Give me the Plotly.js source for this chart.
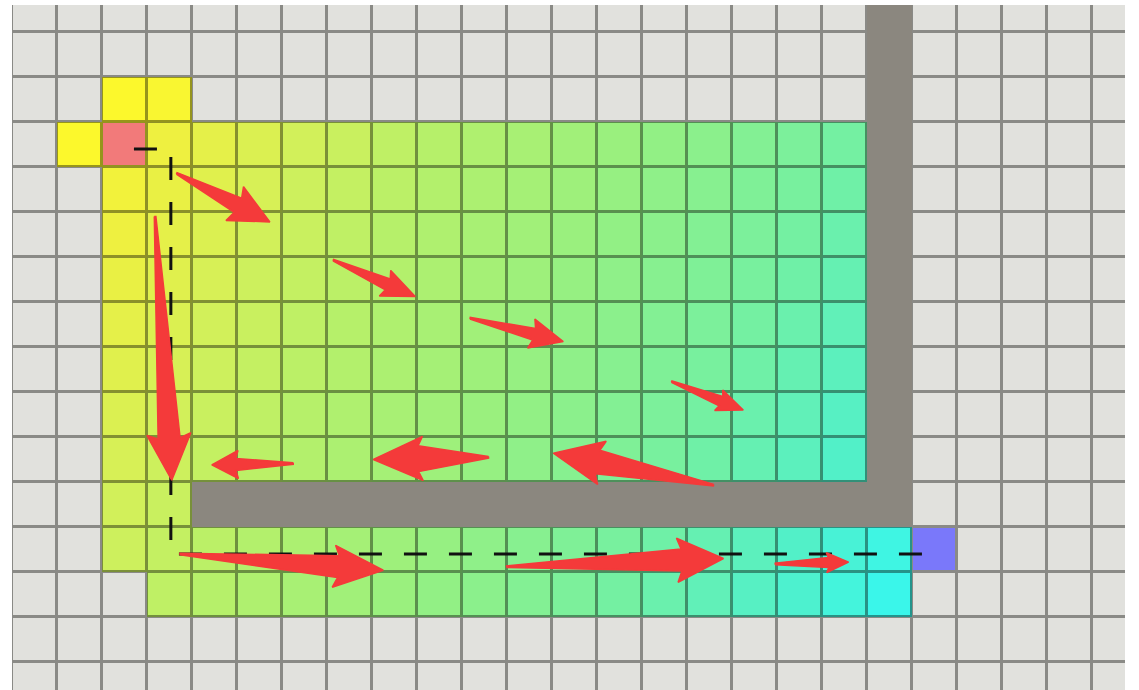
<!DOCTYPE html>
<html><head><meta charset="utf-8">
<script src="https://cdn.plot.ly/plotly-3.0.1.min.js"></script>
<style>html,body{margin:0;padding:0;background:#fff;}#chart{width:1139px;height:690px;}</style>
</head><body><div id="chart"></div>
<script>
// ---- grid cells (column / row indices) ----
const gridCols = [0,1,2,3,4,5,6,7,8,9,10,11,12,13,14,15,16,17,18,19,20,21,22,23,24];
const gridRows = [-1,0,1,2,3,4,5,6,7,8,9,10,11,12,13,14];

// ---- heat values of explored cells: rows 1..12, columns 0..20 (null = unexplored) ----
const n = null;
const heatRows = [1,2,3,4,5,6,7,8,9,10,11,12];
const heatValues = [
  [n,n,4,5,n,n,n,n,n,n,n,n,n,n,n,n,n,n,n,n,n],
  [n,4,6,8,10,12,14,16,18,20,22,24,26,28,30,32,34,36,38,n,n],
  [n,n,7,9,11,13,15,17,19,21,23,25,27,29,31,33,35,37,39,n,n],
  [n,n,8,10,12,14,16,18,20,22,24,26,28,30,32,34,36,38,40,n,n],
  [n,n,9,11,13,15,17,19,21,23,25,27,29,31,33,35,37,39,41,n,n],
  [n,n,10,12,14,16,18,20,22,24,26,28,30,32,34,36,38,40,42,n,n],
  [n,n,11,13,15,17,19,21,23,25,27,29,31,33,35,37,39,41,43,n,n],
  [n,n,12,14,16,18,20,22,24,26,28,30,32,34,36,38,40,42,44,n,n],
  [n,n,13,15,17,19,21,23,25,27,29,31,33,35,37,39,41,43,45,n,n],
  [n,n,14,16,n,n,n,n,n,n,n,n,n,n,n,n,n,n,n,n,n],
  [n,n,15,17,19,21,23,25,27,29,31,33,35,37,39,41,43,45,47,49,n],
  [n,n,n,18,20,22,24,26,28,30,32,34,36,38,40,42,44,46,48,50,n]
];

// ---- start / target cells ----
const startCell = [2, 2];
const targetCell = [20, 11];

// ---- wall cells ----
const wallCellCols = [19,19,19,19,19,19,19,19,19,19,19,19, 4,5,6,7,8,9,10,11,12,13,14,15,16,17,18];
const wallCellRows = [-1,0,1,2,3,4,5,6,7,8,9,10, 10,10,10,10,10,10,10,10,10,10,10,10,10,10,10];

// ---- found path (dashed) ----
const pathX = [2.71, 3.53, 3.53, 20.36];
const pathY = [2.60, 2.60, 11.60, 11.60];

// ---- flow arrows: tail and tip points (grid units) ----
const arrowTailX = [3.66, 7.14, 10.18, 14.66, 3.18, 6.25, 10.59, 15.59, 3.73, 10.99, 16.96];
const arrowTailY = [3.14, 5.07, 6.36, 7.77, 4.10, 9.59, 9.45, 10.07, 11.60, 11.88, 11.82];
const arrowTipX  = [5.73, 8.96, 12.25, 16.25, 3.55, 4.44, 8.03, 12.03, 8.25, 15.81, 18.59];
const arrowTipY  = [4.22, 5.88, 6.88, 8.40, 9.96, 9.62, 9.50, 9.36, 11.96, 11.70, 11.78];

// ---- styles ----
const arrowHeadHalf = [19,14,15,11,22,14,22,22,21,22,10];   // px
const arrowHeadLen  = [36,30,30,24,42,24,45,45,45,42,20];   // px
const arrowShaftHalf= [8,6,6,5,11,6,13,12,11,11,5];          // px
const CELL = 45;
const emptyColor = '#e1e1dd';
const lineColor = '#8a8a86';
const wallColor = '#8b877f';
const startColor = '#f27a7a';
const targetColor = '#7a78fa';
const arrowColor = '#f43a3a';
const heatScale = [
  [0, '#fcf82c'], [0.087, '#eef040'], [0.217, '#d2f05a'], [0.348, '#b6f06a'],
  [0.522, '#9af07e'], [0.739, '#74f0a2'], [0.891, '#52f0c8'], [1, '#3af6ea']
];
function darken(hex, f) {
  const r = parseInt(hex.slice(1,3),16), g = parseInt(hex.slice(3,5),16), b = parseInt(hex.slice(5,7),16);
  return 'rgb(' + Math.round(r*f) + ',' + Math.round(g*f) + ',' + Math.round(b*f) + ')';
}
const darkScale = heatScale.map(s => [s[0], darken(s[1], 0.6)]);

// ---- build full-grid matrices ----
const xc = gridCols.map(c => c + 0.5);
const yc = gridRows.map(r => r + 0.5);
function gridZ(fn) { return gridRows.map(r => gridCols.map(c => fn(c, r))); }
const heatZ = gridZ((c, r) => {
  const ri = heatRows.indexOf(r);
  if (ri < 0 || c >= heatValues[ri].length) return null;
  return heatValues[ri][c];
});
const emptyZ = gridZ(() => 1);
const specialZ = gridZ((c, r) => (c === startCell[0] && r === startCell[1]) ? 0 : ((c === targetCell[0] && r === targetCell[1]) ? 1 : null));
const wallZ = gridZ((c, r) => {
  for (let k = 0; k < wallCellCols.length; k++) if (wallCellCols[k] === c && wallCellRows[k] === r) return 1;
  return null;
});

const common = {x: xc, y: yc, showscale: false, hoverinfo: 'skip', type: 'heatmap'};
const traces = [
  Object.assign({}, common, {z: emptyZ, colorscale: [[0, emptyColor],[1, emptyColor]], xgap: 3, ygap: 3}),
  Object.assign({}, common, {z: heatZ, colorscale: darkScale, zmin: 4, zmax: 50}),
  Object.assign({}, common, {z: heatZ, colorscale: heatScale, zmin: 4, zmax: 50, xgap: 3, ygap: 3}),
  Object.assign({}, common, {z: specialZ, zmin: 0, zmax: 1, colorscale: [[0, startColor],[0.5, startColor],[0.5, targetColor],[1, targetColor]], xgap: 3, ygap: 3}),
  Object.assign({}, common, {z: wallZ, colorscale: [[0, wallColor],[1, wallColor]]})
];

traces.push({
  type: 'scatter', mode: 'lines', x: pathX, y: pathY, hoverinfo: 'skip',
  line: {color: '#111111', width: 3, dash: '23px,22px'}
});

for (let k = 0; k < arrowTailX.length; k++) {
  const tx = arrowTailX[k], ty = arrowTailY[k], px = arrowTipX[k], py = arrowTipY[k];
  const L = Math.hypot(px - tx, py - ty);
  const dx = (px - tx) / L, dy = (py - ty) / L;
  const nx = -dy, ny = dx;
  const hl = arrowHeadLen[k] / CELL, hw = arrowHeadHalf[k] / CELL, sw = arrowShaftHalf[k] / CELL;
  const tw = 0.8 / CELL;
  const bx = px - dx * hl, by = py - dy * hl;
  const back = 0.1 * hl;
  const cx = bx - dx * back, cy = by - dy * back;
  const xs = [tx + nx*tw, bx + nx*sw, cx + nx*hw, px, cx - nx*hw, bx - nx*sw, tx - nx*tw, tx + nx*tw];
  const ys = [ty + ny*tw, by + ny*sw, cy + ny*hw, py, cy - ny*hw, by - ny*sw, ty - ny*tw, ty + ny*tw];
  traces.push({type: 'scatter', mode: 'lines', x: xs, y: ys, fill: 'toself', fillcolor: arrowColor,
    line: {color: arrowColor, width: 1.5}, hoverinfo: 'skip'});
}

const axisBase = {showgrid: false, zeroline: false, showticklabels: false, ticks: '', showline: false, fixedrange: true};
const layout = {
  width: 1139, height: 690,
  margin: {l: 12, r: 14, t: 5, b: 0, pad: 0},
  paper_bgcolor: '#ffffff', plot_bgcolor: lineColor,
  showlegend: false,
  xaxis: Object.assign({}, axisBase, {range: [0, 24.733]}),
  yaxis: Object.assign({}, axisBase, {range: [14.622, -0.6]})
};
Plotly.newPlot('chart', traces, layout, {staticPlot: true, displayModeBar: false});
</script>
</body></html>
